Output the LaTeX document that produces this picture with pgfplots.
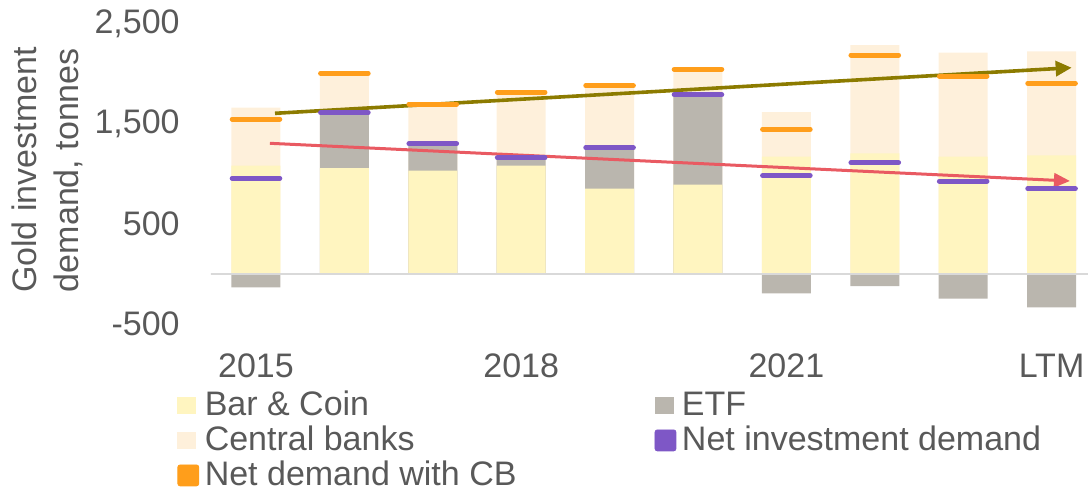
\documentclass[border=0pt]{standalone}
\usepackage{fontspec}
\setmainfont{Liberation Sans}
\usepackage{pgfplots}
\pgfplotsset{compat=1.18}
\usepackage{pgfplotstable}
\usetikzlibrary{arrows.meta}
\definecolor{bcc}{HTML}{FFF5C0}
\definecolor{cbc}{HTML}{FEF0DB}
\definecolor{etfc}{HTML}{BAB6AE}
\definecolor{pur}{HTML}{7E57C6}
\definecolor{org}{HTML}{FF9E1B}
\definecolor{olv}{HTML}{8C7B00}
\definecolor{redc}{HTML}{E95A62}
\definecolor{txt}{HTML}{595959}
\definecolor{zl}{HTML}{D9D9D9}
\pgfplotstableread{
i bc etftop cbtop etfneg netinv netcb
0 1083 0 1663 -133 958 1550
1 1060 1613 2007 0 1613 2007
2 1033 1307 1707 0 1303 1700
3 1083 1160 1825 0 1163 1817
4 853 1263 1883 0 1263 1883
5 893 1793 2057 0 1793 2047
6 1173 0 1620 -193 983 1447
7 1207 0 2290 -120 1113 2190
8 1173 0 2213 -247 930 1980
9 1187 0 2227 -333 853 1907
}\data
\begin{document}
\begin{tikzpicture}
\begin{axis}[
  name=ax,
  scale only axis,
  width=438.5bp, height=150bp,
  xmin=-0.509, xmax=9.412,
  ymin=-500, ymax=2500,
  axis line style={draw=none},
  major tick length=0pt,
  xtick={0,3,6,9},
  xticklabels={2015,2018,2021,LTM},
  ytick={-500,500,1500,2500},
  yticklabels={-500,500,{1,500},{2,500}},
  every tick label/.append style={font=\fontsize{17bp}{20bp}\selectfont, text=txt},
  xticklabel style={anchor=north, inner sep=0pt, yshift=-14.7bp},
  yticklabel style={anchor=east, inner sep=0pt, xshift=-15.5bp},
  ylabel={Gold investment\\demand, tonnes},
  ylabel style={at={(axis description cs:-0.187,0.513)}, anchor=center, align=center,
    font=\fontsize{17bp}{21bp}\selectfont, text=txt, inner sep=0pt},
  legend columns=2,
  legend cell align=left,
  legend style={at={(axis description cs:-0.03877,-0.22)}, anchor=north west,
    draw=none, fill=none, inner sep=0pt,
    font=\fontsize{17bp}{20bp}\selectfont, text=txt,
    nodes={inner sep=0pt, text height=12.5bp, text depth=5bp},
    /tikz/every odd column/.append style={column sep=2.8bp},
    /tikz/every even column/.append style={column sep=69bp}},
]
\addplot[ybar, bar width=24.5bp, bar shift=0pt, fill=cbc, draw=none, forget plot] table[x=i,y=cbtop] {\data};
\addplot[ybar, bar width=24.5bp, bar shift=0pt, fill=etfc, draw=none, forget plot] table[x=i,y=etftop] {\data};
\addplot[ybar, bar width=24.5bp, bar shift=0pt, fill=bcc, draw=none, forget plot] table[x=i,y=bc] {\data};
\addplot[ybar, bar width=24.5bp, bar shift=0pt, fill=etfc, draw=none, forget plot] table[x=i,y=etfneg] {\data};
\addplot[draw=zl, line width=1.2bp, forget plot] coordinates {(-0.6,0) (9.5,0)};
\addplot[only marks, mark=-, mark size=11.9bp, mark options={draw=pur, line width=2.5bp, line cap=round}, forget plot] table[x=i,y=netinv] {\data};
\addplot[only marks, mark=-, mark size=11.9bp, mark options={draw=org, line width=2.5bp, line cap=round}, forget plot] table[x=i,y=netcb] {\data};
\addplot[olv, line width=1.8bp, -{Triangle[length=8bp,width=7.5bp]}, forget plot] coordinates {(0.215,1607) (9.227,2063)};
\addplot[redc, line width=1.5bp, -{Triangle[length=8bp,width=7bp]}, forget plot] coordinates {(0.158,1307) (9.208,930)};
\addlegendimage{legend image code/.code={\fill[bcc] (0bp,-2.75bp) rectangle (9bp,5.25bp);}}
\addlegendentry{Bar \& Coin}
\addlegendimage{legend image code/.code={\fill[etfc] (0bp,-2.75bp) rectangle (9bp,5.25bp);}}
\addlegendentry{ETF}
\addlegendimage{legend image code/.code={\fill[cbc] (0bp,-2.75bp) rectangle (9bp,5.25bp);}}
\addlegendentry{Central banks}
\addlegendimage{legend image code/.code={\fill[pur, rounded corners=1.2bp] (0bp,-4bp) rectangle (10.5bp,6.5bp);}}
\addlegendentry{Net investment demand}
\addlegendimage{legend image code/.code={\fill[org, rounded corners=1.2bp] (0bp,-4bp) rectangle (10.5bp,6.5bp);}}
\addlegendentry{Net demand with CB}
\end{axis}
\pgfresetboundingbox
\path ([shift={(-105.5bp,-83.5bp)}]ax.south west) rectangle ([yshift=12bp]ax.north east);
\end{tikzpicture}
\end{document}
